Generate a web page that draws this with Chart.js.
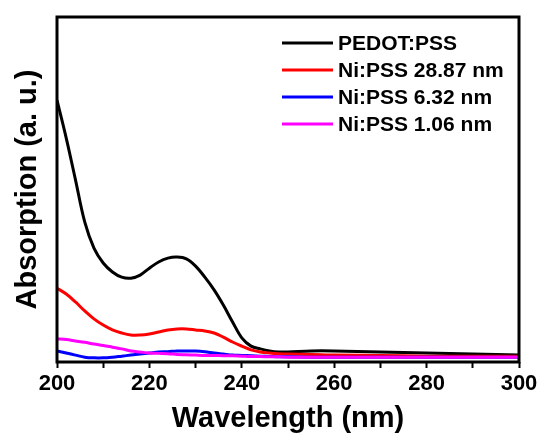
<!DOCTYPE html>
<html lang="en">
<head>
  <meta charset="UTF-8">
  <title>Absorption spectra</title>
  <script src="https://cdn.jsdelivr.net/npm/chart.js"></script>
  <style>
    html, body { margin: 0; padding: 0; background: #fff; }
    #wrap { width: 541px; height: 436px; }
  </style>
</head>
<body>
  <div id="wrap"><canvas id="absChart" width="541" height="436"></canvas></div>
  <script>
    // wavelengths (nm), shared by all curves
    const wavelengths = [200, 202, 204, 206, 208, 210, 212, 214, 216, 218, 220, 222, 224, 226, 228, 230,
                         232, 234, 236, 238, 240, 242, 244, 246, 248, 250, 255, 260, 270, 280, 290, 300];

    // absorption (a. u.)
    const pedotPss = [0.759, 0.649, 0.528, 0.406, 0.330, 0.287, 0.261, 0.246, 0.243, 0.252, 0.272, 0.290, 0.301, 0.304, 0.299, 0.278,
                      0.246, 0.209, 0.165, 0.116, 0.070, 0.046, 0.038, 0.032, 0.029, 0.029, 0.032, 0.032, 0.029, 0.026, 0.023, 0.020];
    const niPss2887 = [0.214, 0.197, 0.174, 0.148, 0.125, 0.107, 0.093, 0.084, 0.078, 0.078, 0.081, 0.087, 0.093, 0.096, 0.096, 0.093,
                       0.090, 0.084, 0.072, 0.058, 0.046, 0.035, 0.029, 0.026, 0.024, 0.023, 0.022, 0.020, 0.019, 0.017, 0.017, 0.017];
    const niPss632 = [0.032, 0.026, 0.020, 0.014, 0.012, 0.012, 0.014, 0.017, 0.020, 0.023, 0.026, 0.029, 0.030, 0.032, 0.032, 0.032,
                      0.030, 0.026, 0.023, 0.020, 0.019, 0.018, 0.017, 0.016, 0.015, 0.015, 0.014, 0.014, 0.014, 0.014, 0.014, 0.014];
    const niPss106 = [0.067, 0.065, 0.061, 0.057, 0.052, 0.048, 0.043, 0.038, 0.032, 0.029, 0.026, 0.025, 0.024, 0.022, 0.021, 0.020,
                      0.019, 0.019, 0.018, 0.018, 0.017, 0.016, 0.016, 0.015, 0.015, 0.014, 0.014, 0.014, 0.014, 0.014, 0.014, 0.014];

    const seriesLabels = ['PEDOT:PSS', 'Ni:PSS 28.87 nm', 'Ni:PSS 6.32 nm', 'Ni:PSS 1.06 nm'];
    const seriesColors = ['#000000', '#ff0000', '#0000ff', '#ff00ff'];
    const seriesValues = [pedotPss, niPss2887, niPss632, niPss106];

    const FONT = "'Liberation Sans', Arial, sans-serif";

    function toPoints(values) {
      return values.map((v, i) => ({ x: wavelengths[i], y: v }));
    }

    // frame around the plot + legend in the top right corner
    const framePlugin = {
      id: 'frame',
      afterDatasetsDraw(chart) {
        const { ctx, chartArea: a } = chart;
        ctx.save();
        ctx.strokeStyle = '#000';
        ctx.lineWidth = 3;
        ctx.strokeRect(a.left, a.top, a.right - a.left, a.bottom - a.top);

        // legend
        ctx.font = 'bold 21px ' + FONT;
        ctx.textBaseline = 'middle';
        ctx.textAlign = 'left';
        seriesLabels.forEach((label, i) => {
          const y = 43 + i * 27;
          ctx.strokeStyle = seriesColors[i];
          ctx.lineWidth = 3;
          ctx.beginPath();
          ctx.moveTo(282, y);
          ctx.lineTo(333, y);
          ctx.stroke();
          ctx.fillStyle = '#000';
          ctx.fillText(label, 338, y + 1);
        });
        ctx.restore();
      }
    };

    const ctx = document.getElementById('absChart').getContext('2d');
    new Chart(ctx, {
      type: 'line',
      data: {
        datasets: seriesLabels.map((label, i) => ({
          label: label,
          data: toPoints(seriesValues[i]),
          borderColor: seriesColors[i],
          borderWidth: 3,
          pointRadius: 0,
          fill: false,
          tension: 0.35,
          order: seriesLabels.length - i
        }))
      },
      options: {
        responsive: false,
        animation: false,
        layout: { padding: { left: 11, right: 22, top: 17, bottom: 0 } },
        plugins: {
          legend: { display: false },
          tooltip: { enabled: false }
        },
        scales: {
          x: {
            type: 'linear',
            min: 200,
            max: 300,
            afterFit(scale) { scale.height = 74; },
            border: { display: false },
            grid: {
              drawOnChartArea: false,
              tickLength: 6,
              tickWidth: 2,
              tickColor: '#000'
            },
            ticks: {
              stepSize: 10,
              autoSkip: false,
              maxRotation: 0,
              padding: 3,
              color: '#000',
              font: { family: FONT, size: 22, weight: 'bold' },
              callback: (v) => (v % 20 === 0 ? String(v) : '')
            },
            title: {
              display: true,
              text: 'Wavelength (nm)',
              color: '#000',
              padding: { top: 0, bottom: 0 },
              font: { family: FONT, size: 29, weight: 'bold' }
            }
          },
          y: {
            min: 0,
            max: 1,
            afterFit(scale) { scale.width = 46; },
            border: { display: false },
            grid: { display: false },
            ticks: { display: false },
            title: {
              display: true,
              text: 'Absorption (a. u.)',
              color: '#000',
              padding: { top: 0, bottom: 0 },
              font: { family: FONT, size: 29, weight: 'bold' }
            }
          }
        }
      },
      plugins: [framePlugin]
    });
  </script>
</body>
</html>
